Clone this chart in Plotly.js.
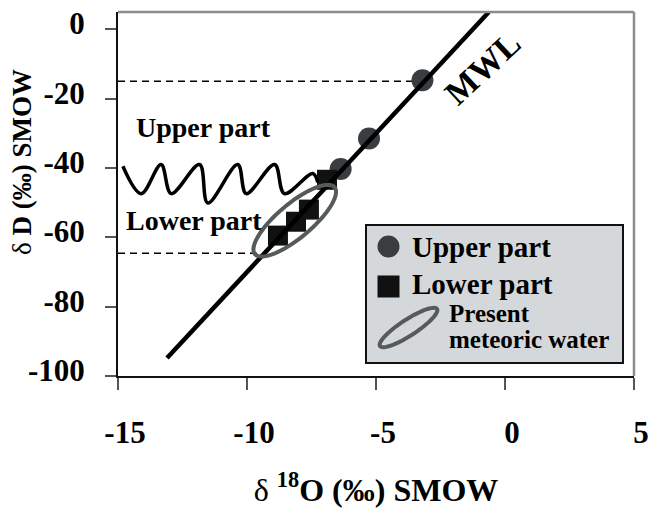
<!DOCTYPE html>
<html><head><meta charset="utf-8">
<script src="https://cdn.plot.ly/plotly-3.0.1.min.js"></script>
<style>html,body{margin:0;padding:0;background:#fff}</style>
</head><body><div id="chart" style="width:652px;height:508px"></div>
<script>
// ---- data ----
const upperX = [-3.2, -5.27, -6.37];
const upperY = [-14.7, -31.5, -40.3];
const lowerX = [-6.9, -7.6, -8.1, -8.8];
const lowerY = [-43.4, -52.0, -55.5, -59.5];
const mwlX = [-13.1, -0.625];
const mwlY = [-94.8, 5];
const upperRefX = [-15, -3.0];
const upperRefY = [-15, -15];
const lowerRefX = [-15, -9.55];
const lowerRefY = [-64.6, -64.6];
const waveX = [-14.81, -14.10, -13.33, -12.94, -11.84, -11.52, -10.36, -10.03, -8.93, -8.55, -7.45, -7.26];
const waveY = [-39.5, -47.4, -39.0, -47.4, -39.0, -50.1, -39.0, -47.4, -39.0, -47.4, -41.6, -44.1];
const xTickVals = [-15, -10, -5, 0, 5];
const xTickText = ['-15', '-10', '-5', '0', '5'];
const yTickVals = [0, -20, -40, -60, -80, -100];
const yTickText = ['0', '-20', '-40', '-60', '-80', '-100'];
const presentCenter = [-8.15, -55.2];

// ---- layout geometry ----
const W = 652, H = 508;
const M = {l: 118, r: 18, t: 12, b: 132};
const xRange = [-15, 5], yRange = [-100, 5];
const PW = W - M.l - M.r, PH = H - M.t - M.b;
const x2px = x => M.l + (x - xRange[0]) / (xRange[1] - xRange[0]) * PW;
const y2px = y => M.t + (yRange[1] - y) / (yRange[1] - yRange[0]) * PH;
const px2x = p => xRange[0] + (p - M.l) / PW * (xRange[1] - xRange[0]);
const py2y = p => yRange[1] - (p - M.t) / PH * (yRange[1] - yRange[0]);
const pxp = p => (p - M.l) / PW;       // pixel -> paper x
const pyp = p => (M.t + PH - p) / PH;  // pixel -> paper y

function ellipsePath(cx, cy, a, b, deg, toX, toY) {
  const th = deg * Math.PI / 180; let d = '';
  for (let i = 0; i <= 72; i++) {
    const f = i / 72 * 2 * Math.PI;
    const px = cx + a * Math.cos(f) * Math.cos(th) - b * Math.sin(f) * Math.sin(th);
    const py = cy - (a * Math.cos(f) * Math.sin(th) + b * Math.sin(f) * Math.cos(th));
    d += (i ? 'L' : 'M') + toX(px).toFixed(4) + ',' + toY(py).toFixed(4);
  }
  return d + 'Z';
}

const FONT = 'Liberation Serif, Times New Roman, serif';
const GRAY = '#3a3d40', BLACK = '#111111', RING = '#555a5a';

const traces = [
  {x: upperRefX, y: upperRefY, mode: 'lines', line: {color: '#000', width: 1.5, dash: '7px,5px'}, hoverinfo: 'skip', showlegend: false},
  {x: lowerRefX, y: lowerRefY, mode: 'lines', line: {color: '#000', width: 1.5, dash: '7px,5px'}, hoverinfo: 'skip', showlegend: false},
  {x: upperX, y: upperY, mode: 'markers', name: 'Upper part', marker: {symbol: 'circle', size: 22, color: GRAY}, showlegend: false},
  {x: lowerX, y: lowerY, mode: 'markers', name: 'Lower part', marker: {symbol: 'square', size: 20, color: BLACK}, showlegend: false},
  {x: waveX, y: waveY, mode: 'lines', line: {color: '#000', width: 3.5, shape: 'spline', smoothing: 1}, hoverinfo: 'skip', showlegend: false},
  {x: mwlX, y: mwlY, mode: 'lines', name: 'MWL', line: {color: '#000', width: 4.5}, showlegend: false}
];

const c0 = [x2px(presentCenter[0]), y2px(presentCenter[1])];
const shapes = [
  {type: 'path', xref: 'x', yref: 'y', layer: 'above', path: ellipsePath(c0[0], c0[1], 52, 17, 40, px2x, py2y), line: {color: RING, width: 4}},
  {type: 'line', xref: 'paper', yref: 'paper', x0: 0, x1: 1, y0: 1, y1: 1, line: {color: '#8c8c8c', width: 2.5}},
  {type: 'line', xref: 'paper', yref: 'paper', x0: 1, x1: 1, y0: 0, y1: 1, line: {color: '#8c8c8c', width: 2.5}},
  // legend box
  {type: 'rect', xref: 'paper', yref: 'paper', layer: 'above', x0: pxp(366), x1: pxp(623), y0: pyp(363), y1: pyp(225), fillcolor: '#d5d8db', line: {color: '#111', width: 2}},
  {type: 'circle', xref: 'paper', yref: 'paper', layer: 'above', x0: pxp(377.5), x1: pxp(399.5), y0: pyp(257.5), y1: pyp(235.5), fillcolor: GRAY, line: {width: 0}},
  {type: 'rect', xref: 'paper', yref: 'paper', layer: 'above', x0: pxp(377.5), x1: pxp(399.5), y0: pyp(297.5), y1: pyp(275.5), fillcolor: BLACK, line: {width: 0}},
  {type: 'path', xref: 'paper', yref: 'paper', layer: 'above', path: ellipsePath(408.5, 327.5, 34, 8, 33, pxp, pyp), line: {color: RING, width: 4}}
];

const tf = {family: FONT, color: '#000'};
const annotations = [
  {xref: 'paper', yref: 'paper', x: pxp(22), y: pyp(162), xanchor: 'center', yanchor: 'middle', textangle: -90, text: 'δ <b>D (‰) SMOW</b>', showarrow: false, font: Object.assign({size: 27}, tf)},
  {xref: 'paper', yref: 'paper', x: pxp(134), y: pyp(127), xanchor: 'left', yanchor: 'middle', text: '<b>Upper part</b>', showarrow: false, font: Object.assign({size: 28}, tf)},
  {xref: 'paper', yref: 'paper', x: pxp(124), y: pyp(221), xanchor: 'left', yanchor: 'middle', text: '<b>Lower part</b>', showarrow: false, font: Object.assign({size: 28}, tf)},
  {xref: 'paper', yref: 'paper', x: pxp(482), y: pyp(68), xanchor: 'center', yanchor: 'middle', text: '<b>MWL</b>', textangle: -43, showarrow: false, font: Object.assign({size: 34}, tf)},
  {xref: 'paper', yref: 'paper', x: pxp(410), y: pyp(247), xanchor: 'left', yanchor: 'middle', text: '<b>Upper part</b>', showarrow: false, font: Object.assign({size: 29}, tf)},
  {xref: 'paper', yref: 'paper', x: pxp(410), y: pyp(284), xanchor: 'left', yanchor: 'middle', text: '<b>Lower part</b>', showarrow: false, font: Object.assign({size: 29}, tf)},
  {xref: 'paper', yref: 'paper', x: pxp(447), y: pyp(313), xanchor: 'left', yanchor: 'middle', text: '<b>Present</b>', showarrow: false, font: Object.assign({size: 25}, tf)},
  {xref: 'paper', yref: 'paper', x: pxp(447), y: pyp(339), xanchor: 'left', yanchor: 'middle', text: '<b>meteoric water</b>', showarrow: false, font: Object.assign({size: 25}, tf)}
];

const layout = {
  width: W, height: H, margin: M,
  paper_bgcolor: '#fff', plot_bgcolor: '#fff', showlegend: false,
  font: {family: FONT, color: '#000'},
  xaxis: {range: xRange, tickvals: xTickVals, ticktext: xTickText, showgrid: false, zeroline: false,
    showline: true, linecolor: '#111', linewidth: 2, ticks: 'outside', ticklen: 12, tickwidth: 2, tickcolor: '#555',
    tickfont: {family: FONT, size: 31, weight: 'bold', color: '#000'}, ticklabelstandoff: 16, ticklabelshift: 7,
    title: {text: 'δ <b><sup>18</sup>O (‰) SMOW</b>', font: {family: FONT, size: 32, color: '#000'}, standoff: 29}},
  yaxis: {range: yRange, tickvals: yTickVals, ticktext: yTickText, showgrid: false, zeroline: false,
    showline: true, linecolor: '#111', linewidth: 2, ticks: 'outside', ticklen: 11, tickwidth: 2, tickcolor: '#555',
    tickfont: {family: FONT, size: 31, weight: 'bold', color: '#000'}, ticklabelstandoff: 14, ticklabelshift: -6},
  shapes: shapes, annotations: annotations
};

Plotly.newPlot('chart', traces, layout, {displayModeBar: false, staticPlot: true});
</script></body></html>
